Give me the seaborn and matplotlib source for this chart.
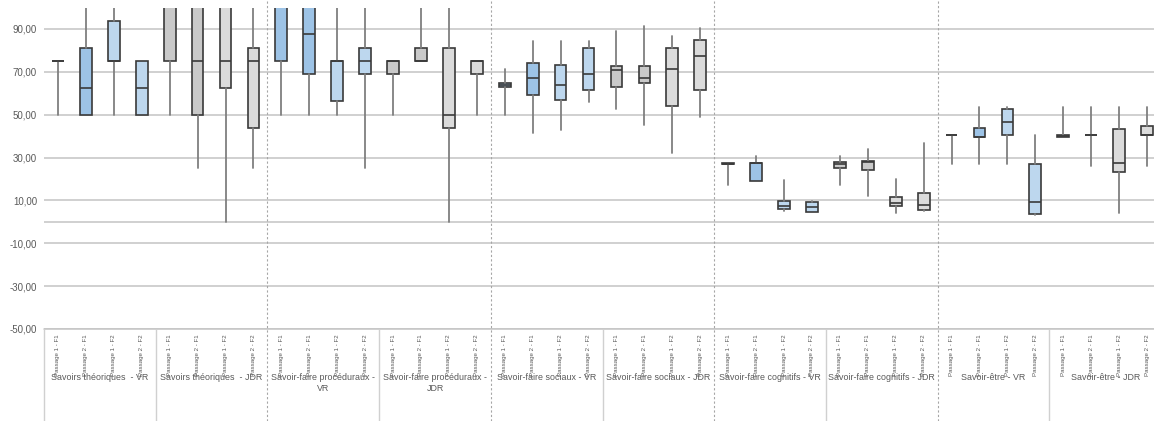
import matplotlib
matplotlib.use("Agg")
import matplotlib.pyplot as plt
import matplotlib.transforms as mtransforms
from matplotlib.ticker import FuncFormatter
import seaborn as sns

# categories (group labels as shown on the axis) and series inside each group
groups = [
    "Savoirs théoriques  - VR", "Savoirs théoriques  - JDR",
    "Savoir-faire procéduraux -\nVR", "Savoir-faire procéduraux -\nJDR",
    "Savoir-faire sociaux - VR", "Savoir-faire sociaux - JDR",
    "Savoir-faire cognitifs - VR", "Savoir-faire cognitifs - JDR",
    "Savoir-être - VR", "Savoir-être - JDR",
]
series = ["Passage 1 - F1", "Passage 2 - F1", "Passage 1 - F2", "Passage 2 - F2"]

# box statistics, 4 boxes per group
whislo = [50, 50, 50, 50,
          50, 25, 0, 25,
          50, 50, 50, 25,
          50, 75, 0, 50,
          50, 41.6, 42.8, 56.1,
          52.5, 45.2, 32.2, 48.75,
          17.3, 19.2, 5, 4.8,
          17.3, 12, 4, 5,
          26.9, 26.9, 26.9, 3,
          39.4, 26, 4, 25.9]
q1 = [75, 50, 75, 50,
      75, 50, 62.5, 43.75,
      75, 68.75, 56.25, 68.75,
      68.75, 75, 43.75, 68.75,
      62.8, 59.4, 56.9, 61.6,
      62.8, 64.7, 54.2, 61.7,
      27.2, 19.2, 5.8, 4.8,
      25.3, 24.1, 7.2, 5.6,
      40.3, 39.7, 40.3, 3.75,
      39.4, 40.3, 23.3, 40.3]
med = [75, 62.5, 75, 62.5,
       100, 75, 75, 75,
       100, 87.5, 75, 75,
       75, 75, 50, 75,
       64, 66.9, 63.75, 68.9,
       70.9, 67.2, 71.4, 77.2,
       27.2, 27.5, 7.2, 7,
       27.2, 27.7, 8.9, 8,
       40.3, 39.7, 46.7, 9.1,
       40, 40.3, 27.5, 40.3]
q3 = [75, 81.25, 93.75, 75,
      100, 100, 100, 81.25,
      100, 100, 75, 81.25,
      75, 81.25, 81.25, 75,
      65, 74.1, 73, 81.1,
      72.8, 72.7, 81.1, 84.7,
      27.5, 27.5, 9.5, 9.1,
      27.8, 28.3, 11.7, 13.6,
      40.3, 43.75, 52.8, 26.9,
      40.5, 40.3, 43.4, 44.5]
whishi = [75, 100, 100, 75,
          100, 100, 100, 100,
          100, 100, 100, 100,
          75, 100, 100, 75,
          71.25, 84.4, 84.4, 84.4,
          89, 91.6, 86.9, 90.3,
          27.5, 30.6, 19.4, 9.5,
          30.6, 33.75, 20.2, 36.6,
          40.3, 53.75, 53.75, 40.3,
          53.75, 53.75, 53.75, 53.75]

sns.set_theme(style="white")
plt.rcParams["font.family"] = ["Liberation Sans", "DejaVu Sans"]

W, H = 1154, 421
fig = plt.figure(figsize=(W / 100, H / 100), dpi=100)
ax = fig.add_axes([44 / W, 92 / H, (1161 - 44) / W, 321.5 / H])

n = len(groups) * len(series)
stats = []
for i in range(n):
    stats.append({"whislo": whislo[i], "q1": q1[i], "med": med[i],
                  "q3": q3[i], "whishi": whishi[i], "fliers": []})
positions = [i + 0.5 for i in range(n)]

# VR groups blue, JDR groups grey; F1 darker, F2 lighter
colors = []
for g in range(len(groups)):
    dark, light = ("#9DC3E6", "#BDD7EE") if g % 2 == 0 else ("#C9C9C9", "#DBDBDB")
    colors += [dark, dark, light, light]

# grid first so boxes sit on top
ax.set_ylim(-50, 100)
ax.set_xlim(0, n)
ax.set_yticks(range(-50, 91, 20))
ax.yaxis.set_major_formatter(FuncFormatter(lambda v, p: f"{v:.2f}".replace(".", ",")))
ax.grid(axis="y", color="#c4c4c4", lw=1.1)
ax.set_axisbelow(True)
ax.axhline(0, color="#c4c4c4", lw=1.1, zorder=0.5)

bp = ax.bxp(stats, positions=positions, widths=0.42, patch_artist=True,
            showcaps=False, showfliers=False,
            boxprops=dict(edgecolor="#3a3a3a", linewidth=1.2),
            whiskerprops=dict(color="#7f7f7f", linewidth=1.3),
            medianprops=dict(color="#3a3a3a", linewidth=1.2))
for patch, c in zip(bp["boxes"], colors):
    patch.set_facecolor(c)

for s in ax.spines.values():
    s.set_visible(False)

ax.tick_params(axis="y", length=0, pad=5, labelsize=7, labelcolor="#595959")
ax.set_xticks(positions, series * len(groups), rotation=90)
ax.tick_params(axis="x", length=0, pad=4, labelsize=4.4, labelcolor="#595959")

# category area below the plot
trans = mtransforms.blended_transform_factory(ax.transData, ax.transAxes)
below = -92 / 321.5
ax.plot([0, n], [0, 0], transform=trans, color="#c4c4c4", lw=1.1, clip_on=False)
for g in range(len(groups) + 1):
    x = g * len(series)
    if g % 2 == 0 and 0 < g < len(groups):
        ax.plot([x, x], [below, 1 + 8 / 321.5], transform=trans, color="#a6a6a6",
                lw=0.8, ls=(0, (2, 2)), clip_on=False)
    else:
        ax.plot([x, x], [below, 0], transform=trans, color="#d0d0d0", lw=1.0, clip_on=False)

for g, name in enumerate(groups):
    ax.text(g * len(series) + len(series) / 2, -(373 - 329) / 321.5, name,
            transform=trans, ha="center", va="top", fontsize=6.4, color="#595959",
            linespacing=1.35)

fig.savefig("out.png", dpi=100)
